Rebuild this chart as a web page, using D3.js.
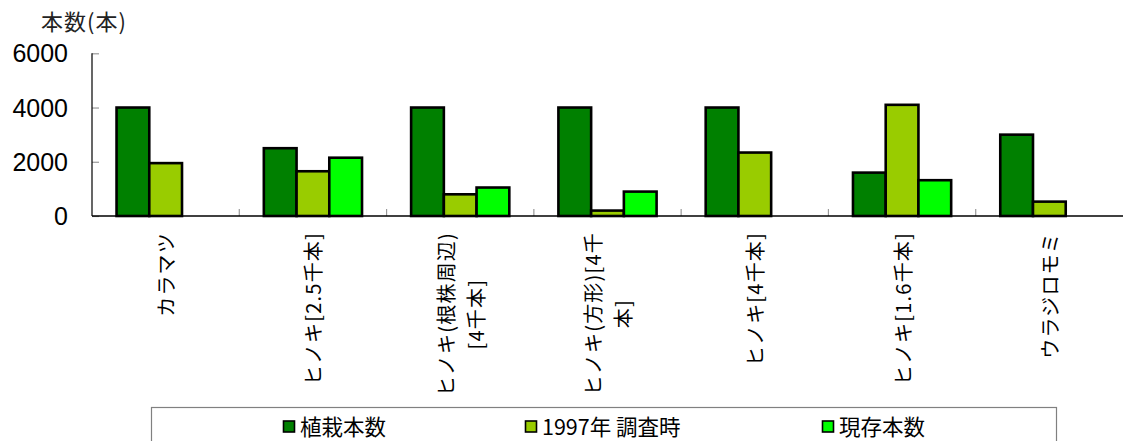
<!DOCTYPE html>
<html>
<head>
<meta charset="utf-8">
<script src="https://cdn.jsdelivr.net/npm/d3@7"></script>
<style>
  html, body { margin: 0; padding: 0; background: #fff; }
  svg { display: block; }
</style>
</head>
<body>
<svg id="chart" width="1123" height="441"></svg>
<script>
// Planting counts by species / planting pattern
const categories = [
  ["カラマツ"],
  ["ヒノキ[2.5千本]"],
  ["ヒノキ(根株周辺)", "[4千本]"],
  ["ヒノキ(方形)[4千", "本]"],
  ["ヒノキ[4千本]"],
  ["ヒノキ[1.6千本]"],
  ["ウラジロモミ"]
];
const seriesNames = ["植栽本数", "1997年 調査時", "現存本数"];
const planted    = [4000, 2500, 4000, 4000, 4000, 1600, 3000];
const survey1997 = [1950, 1650,  800,  200, 2340, 4100,  530];
const surviving  = [null, 2150, 1050,  900, null, 1320, null];
const yTicks = [0, 2000, 4000, 6000];
const colors = ["#008000", "#99CC00", "#00FF00"];

const series = [planted, survey1997, surviving];

const svg = d3.select("#chart");
const plot = { left: 92, right: 1123, top: 53.3, bottom: 216 };

const x = d3.scaleBand()
  .domain(d3.range(categories.length))
  .range([plot.left, plot.right])
  .paddingInner(0).paddingOuter(0);

// 150% gap width: bar = band / 4.5, half the gap on each side
const bw = x.bandwidth();
const side = bw * 0.75 / 4.5;
const xs = d3.scaleBand()
  .domain(d3.range(series.length))
  .range([side, bw - side])
  .padding(0);

const y = d3.scaleLinear().domain([0, 6000]).range([plot.bottom, plot.top]);

// Title above the value axis
svg.append("text")
  .attr("x", 41).attr("y", 30)
  .attr("font-family", "'Noto Sans CJK JP'")
  .attr("font-size", 22)
  .attr("letter-spacing", 1)
  .attr("fill", "#222")
  .text("本数(本)");

// Value axis
const yAxis = svg.append("g")
  .attr("transform", `translate(${plot.left},0)`)
  .call(d3.axisRight(y).tickValues(yTicks).tickSize(7).tickFormat(""));
yAxis.select(".domain").remove();
yAxis.selectAll(".tick line").attr("stroke", "#999").attr("stroke-width", 1.2);
svg.append("line")
  .attr("x1", plot.left).attr("x2", plot.left)
  .attr("y1", plot.top).attr("y2", plot.bottom)
  .attr("stroke", "#000").attr("stroke-width", 1.2);

svg.append("g").selectAll("text")
  .data(yTicks)
  .join("text")
  .attr("x", 68)
  .attr("y", d => y(d))
  .attr("text-anchor", "end")
  .attr("dominant-baseline", "central")
  .attr("font-family", "'Liberation Sans', Arial, sans-serif")
  .attr("font-size", 25)
  .attr("fill", "#000")
  .text(d => d);

// Bars
const groups = svg.append("g").selectAll("g")
  .data(categories.map((c, i) => i))
  .join("g")
  .attr("transform", i => `translate(${x(i)},0)`);

groups.selectAll("rect")
  .data(i => series.map((s, k) => ({ k, v: s[i] })).filter(d => d.v != null))
  .join("rect")
  .attr("x", d => xs(d.k))
  .attr("width", xs.bandwidth())
  .attr("y", d => y(d.v))
  .attr("height", d => y(0) - y(d.v))
  .attr("fill", d => colors[d.k])
  .attr("stroke", "#000")
  .attr("stroke-width", 2.6);

// Category axis with boundary ticks
const catTicks = d3.range(1, categories.length).map(i => x(i));
svg.append("g").selectAll("line")
  .data(catTicks)
  .join("line")
  .attr("x1", d => d).attr("x2", d => d)
  .attr("y1", plot.bottom - 7).attr("y2", plot.bottom)
  .attr("stroke", "#999").attr("stroke-width", 1.2);
svg.append("line")
  .attr("x1", plot.left).attr("x2", plot.right)
  .attr("y1", plot.bottom).attr("y2", plot.bottom)
  .attr("stroke", "#000").attr("stroke-width", 1.5);

// Rotated category labels, top-aligned under the axis, lines centred on each other
const labelTop = 232;
const lineGap = 30;
const labels = svg.append("g");
categories.forEach((lines, i) => {
  const cx = x(i) + bw / 2;
  const g = labels.append("g")
    .attr("transform", `translate(${cx},0) rotate(-90)`);
  const texts = lines.map((t, j) => g.append("text")
    .attr("font-family", "'Noto Sans CJK JP'")
    .attr("font-size", 20)
    .attr("letter-spacing", 1.2)
    .attr("fill", "#000")
    .attr("dominant-baseline", "central")
    .attr("text-anchor", "middle")
    .attr("y", (j - (lines.length - 1) / 2) * lineGap)
    .text(t));
  const maxLen = d3.max(texts, t => t.node().getComputedTextLength());
  texts.forEach(t => t.attr("x", -(labelTop + maxLen / 2)));
});

// Legend
svg.append("rect")
  .attr("x", 151.5).attr("y", 407.5)
  .attr("width", 905).attr("height", 50)
  .attr("fill", "#fff")
  .attr("stroke", "#808080").attr("stroke-width", 1.2);

const legendX = [283, 525, 822];
const legend = svg.append("g").selectAll("g")
  .data(seriesNames)
  .join("g")
  .attr("transform", (d, k) => `translate(${legendX[k]},425)`);
legend.append("rect")
  .attr("x", 0.5).attr("y", -4)
  .attr("width", 11).attr("height", 11)
  .attr("fill", (d, k) => colors[k])
  .attr("stroke", "#000").attr("stroke-width", 1.6);
legend.append("text")
  .attr("x", 17)
  .attr("y", 0)
  .attr("dominant-baseline", "central")
  .attr("font-family", "'Noto Sans CJK JP'")
  .attr("font-size", 21.5)
  .attr("fill", "#000")
  .text(d => d);
</script>
</body>
</html>
